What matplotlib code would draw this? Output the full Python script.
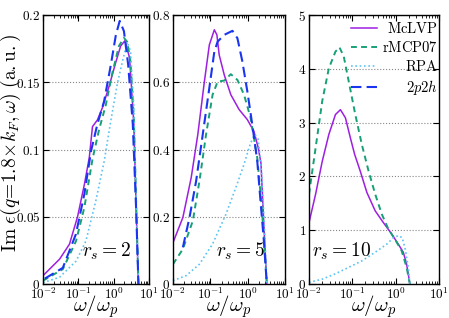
import math
import matplotlib
matplotlib.use('Agg')
import matplotlib.pyplot as plt
from matplotlib.ticker import FuncFormatter, LogLocator, NullFormatter

plt.rcParams['mathtext.fontset'] = 'cm'
plt.rcParams['font.family'] = 'serif'

# ---- r_s = 2 ----
w2_mclvp = [0.01, 0.0295, 0.056, 0.095, 0.148, 0.204, 0.251, 0.347, 0.479, 0.741, 1.15, 1.58, 2.09, 2.82, 3.72, 4.37, 5.01]
e2_mclvp = [0.0062, 0.0185, 0.0296, 0.050, 0.074, 0.094, 0.117, 0.122, 0.131, 0.147, 0.165, 0.177, 0.181, 0.168, 0.119, 0.052, 0]
w2_rmcp = [0.01, 0.0363, 0.0861, 0.148, 0.252, 0.388, 0.597, 0.918, 1.41, 1.95, 2.42, 3.0, 3.72, 4.41, 5.02]
e2_rmcp = [0.0025, 0.011, 0.032, 0.057, 0.093, 0.115, 0.133, 0.157, 0.177, 0.183, 0.180, 0.165, 0.123, 0.052, 0]
w2_rpa = [0.01, 0.0293, 0.0861, 0.164, 0.313, 0.536, 0.824, 1.27, 1.75, 2.42, 3.0, 3.72, 4.41, 5.02]
e2_rpa = [0.001, 0.005, 0.017, 0.032, 0.062, 0.091, 0.121, 0.149, 0.165, 0.180, 0.173, 0.131, 0.057, 0]
w2_2p2h = [0.0112, 0.0363, 0.0851, 0.148, 0.229, 0.347, 0.537, 0.832, 1.15, 1.48, 1.95, 2.57, 3.47, 4.37, 5.01]
e2_2p2h = [0.004, 0.012, 0.037, 0.067, 0.099, 0.119, 0.136, 0.163, 0.185, 0.1956, 0.188, 0.163, 0.119, 0.052, 0]

# ---- r_s = 5 ----
w5_mclvp = [0.01, 0.0184, 0.0307, 0.0461, 0.0693, 0.094, 0.128, 0.150, 0.173, 0.236, 0.354, 0.589, 0.980, 1.47, 1.92, 2.27, 2.55, 2.88, 3.26]
e5_mclvp = [0.123, 0.198, 0.316, 0.444, 0.602, 0.711, 0.756, 0.741, 0.681, 0.622, 0.563, 0.519, 0.489, 0.454, 0.405, 0.36, 0.24, 0.12, 0]
w5_rmcp = [0.01, 0.0184, 0.034, 0.0511, 0.0767, 0.115, 0.157, 0.236, 0.354, 0.532, 0.800, 1.20, 1.81, 2.35, 2.77, 3.26]
e5_rmcp = [0.059, 0.104, 0.188, 0.306, 0.444, 0.563, 0.602, 0.605, 0.624, 0.607, 0.563, 0.494, 0.375, 0.237, 0.128, 0]
w5_rpa = [0.01, 0.0226, 0.0511, 0.115, 0.261, 0.480, 0.800, 1.20, 1.57, 1.92, 2.35, 2.77, 3.26]
e5_rpa = [0.010, 0.025, 0.059, 0.119, 0.207, 0.286, 0.356, 0.420, 0.444, 0.430, 0.336, 0.188, 0]
w5_2p2h = [0.0184, 0.0277, 0.0416, 0.0625, 0.094, 0.128, 0.157, 0.236, 0.392, 0.532, 0.721, 0.980, 1.33, 1.81, 2.21, 2.72, 3.26]
e5_2p2h = [0.109, 0.198, 0.306, 0.444, 0.583, 0.691, 0.721, 0.741, 0.753, 0.731, 0.662, 0.573, 0.474, 0.365, 0.247, 0.128, 0]

# ---- r_s = 10 ----
w10_mclvp = [0.01, 0.0142, 0.0202, 0.0287, 0.0408, 0.0531, 0.0692, 0.0899, 0.113, 0.152, 0.217, 0.337, 0.522, 0.809, 1.15, 1.50, 1.79, 2.13]
e10_mclvp = [1.14, 1.67, 2.28, 2.78, 3.15, 3.24, 3.09, 2.72, 2.41, 2.10, 1.70, 1.36, 1.14, 0.93, 0.74, 0.59, 0.37, 0]
w10_rmcp = [0.01, 0.0142, 0.0202, 0.0287, 0.0408, 0.0504, 0.0634, 0.0824, 0.117, 0.166, 0.237, 0.337, 0.478, 0.679, 0.966, 1.37, 1.79, 2.13]
e10_rmcp = [1.67, 2.53, 3.40, 4.01, 4.32, 4.40, 4.23, 3.77, 3.15, 2.59, 2.10, 1.67, 1.30, 1.02, 0.83, 0.62, 0.31, 0]
w10_rpa = [0.01, 0.0202, 0.0408, 0.0824, 0.166, 0.337, 0.622, 0.885, 1.15, 1.42, 1.69, 1.95, 2.13]
e10_rpa = [0.03, 0.09, 0.19, 0.31, 0.43, 0.59, 0.74, 0.86, 0.90, 0.86, 0.62, 0.31, 0]

rs_labels = ['2', '5', '10']
ylims = [0.2, 0.8, 5]
yticks = [[0, 0.05, 0.1, 0.15, 0.2], [0, 0.2, 0.4, 0.6, 0.8], [0, 1, 2, 3, 4, 5]]

c_mclvp = '#9d1fe0'
c_rmcp = '#17a077'
c_rpa = '#5cc3f2'
c_2p2h = '#1a35f0'

fig = plt.figure(figsize=(4.49, 3.18), dpi=100)
ax1 = fig.add_axes([0.0958, 0.1069, 0.2361, 0.8459])
ax2 = fig.add_axes([0.3853, 0.1069, 0.2494, 0.8459])
ax3 = fig.add_axes([0.6882, 0.1069, 0.2895, 0.8459])
axes = [ax1, ax2, ax3]

def draw_set(ax, w_m, e_m, w_r, e_r, w_p, e_p, w_h=None, e_h=None):
    ax.plot(w_m, e_m, color=c_mclvp, lw=1.1, label=r'$\mathrm{McLVP}$')
    ax.plot(w_r, e_r, color=c_rmcp, lw=1.4, dashes=(3, 2.2), label=r'$\mathrm{rMCP07}$')
    ax.plot(w_p, e_p, color=c_rpa, lw=1.2, dashes=(1, 1.6), label=r'$\mathrm{RPA}$')
    if w_h is not None:
        ax.plot(w_h, e_h, color=c_2p2h, lw=1.5, dashes=(5, 2.5), label=r'$2p2h$')
    else:
        ax.plot([], [], color=c_2p2h, lw=1.5, dashes=(5, 2.5), label=r'$2p2h$')

draw_set(ax1, w2_mclvp, e2_mclvp, w2_rmcp, e2_rmcp, w2_rpa, e2_rpa, w2_2p2h, e2_2p2h)
draw_set(ax2, w5_mclvp, e5_mclvp, w5_rmcp, e5_rmcp, w5_rpa, e5_rpa, w5_2p2h, e5_2p2h)
draw_set(ax3, w10_mclvp, e10_mclvp, w10_rmcp, e10_rmcp, w10_rpa, e10_rpa)

rs_x = [0.60, 0.60, 0.25]
for i, ax in enumerate(axes):
    ax.set_xscale('log')
    ax.set_xlim(1e-2, 1e1)
    ax.set_ylim(0, ylims[i])
    ax.set_yticks(yticks[i])
    ax.yaxis.set_major_formatter(FuncFormatter(lambda v, p: r'$%g$' % v))
    ax.xaxis.set_major_locator(LogLocator(base=10, numticks=10))
    ax.xaxis.set_minor_locator(LogLocator(base=10, subs=range(2, 10), numticks=10))
    ax.xaxis.set_minor_formatter(NullFormatter())
    ax.xaxis.set_major_formatter(FuncFormatter(lambda v, p: r'$10^{%d}$' % round(math.log10(v))))
    ax.tick_params(which='both', direction='in', top=True, right=True, labelsize=9.5, pad=2)
    ax.tick_params(which='major', length=4, width=0.8)
    ax.tick_params(which='minor', length=2, width=0.6)
    ax.yaxis.grid(True, linestyle=':', color='#888888', lw=0.8)
    for s in ax.spines.values():
        s.set_linewidth(1.0)
    ax.set_xlabel(r'$\omega/\omega_p$', fontsize=15, labelpad=-6.5)
    ax.text(rs_x[i], 0.12, r'$r_s=%s$' % rs_labels[i], transform=ax.transAxes,
            fontsize=14, ha='center', va='center')

ax1.set_ylabel(r'$\mathrm{Im}\ \epsilon(q\!=\!1.8\!\times\!k_F,\omega)\ \mathrm{(a.u.)}$', fontsize=14)
ax1.yaxis.set_label_coords(-0.19, 0.525)

leg = ax3.legend(loc='upper right', frameon=False, fontsize=10.5, handlelength=1.75,
                 handletextpad=0.36, labelspacing=0.28, borderaxespad=0.0,
                 borderpad=0.0, bbox_to_anchor=(0.99, 0.978))
# right-align the legend labels
fig.canvas.draw()
renderer = fig.canvas.get_renderer()
widths = [t.get_window_extent(renderer).width for t in leg.get_texts()]
shift = max(widths)
for t, w in zip(leg.get_texts(), widths):
    t.set_position((shift - w, 0))

fig.savefig('out.png', dpi=100)
